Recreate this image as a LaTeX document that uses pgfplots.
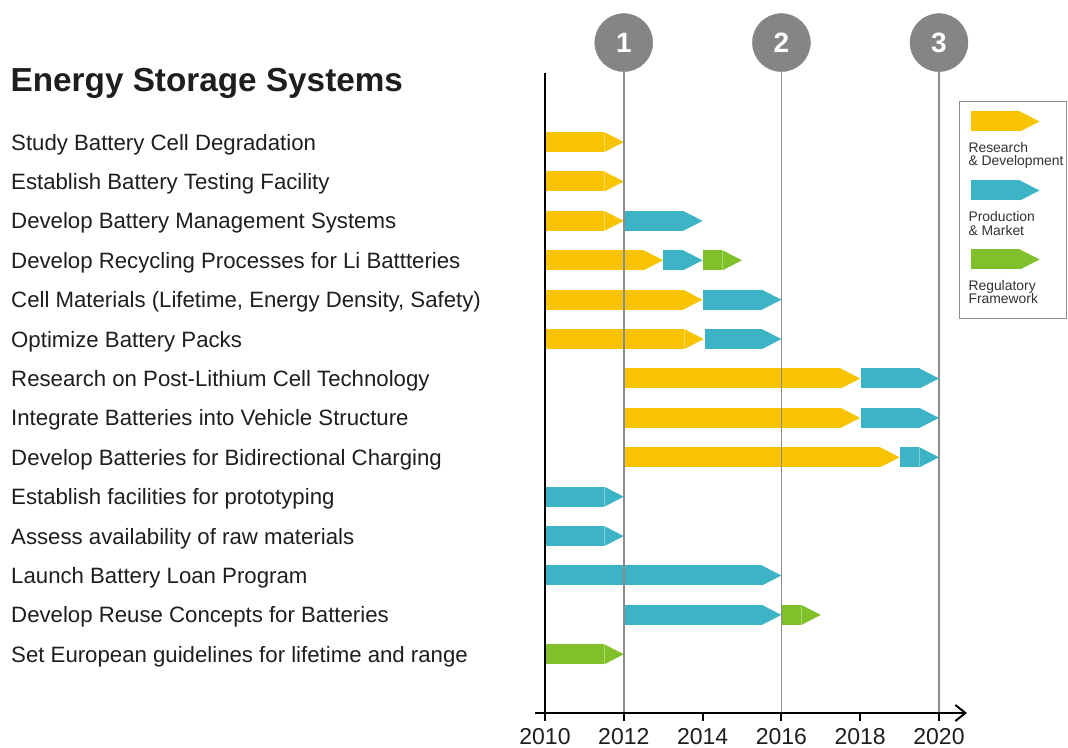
\documentclass[border=0pt]{standalone}
\usepackage{fontspec}
\setmainfont{Liberation Sans}
\usepackage{pgfplots}
\usepackage{pgfplotstable}
\pgfplotsset{compat=1.18}
\usetikzlibrary{arrows.meta}
\definecolor{rd}{HTML}{F8C300}
\definecolor{pm}{HTML}{3CB4C5}
\definecolor{rf}{HTML}{80C02A}
\definecolor{ms}{HTML}{858585}
\definecolor{vl}{HTML}{8C8C8C}
\definecolor{txt}{HTML}{1E1E1E}
\definecolor{legtxt}{HTML}{333333}
\tikzset{seg/.style={line width=20bp, -{Triangle[length=19.5bp 0 0, width=20bp 0 0, line width=0pt 0 0]}},
  legtext/.style={anchor=base west, inner sep=0pt, fill=none, draw=none,
    font=\fontsize{13.9bp}{16bp}\selectfont, text=legtxt}}

\pgfplotstableread{
x y u
2010 -1 2
2010 -2 2
2010 -3 2
2010 -4 3
2010 -5 4
2010 -6 4.03
2012 -7 6
2012 -8 6
2012 -9 7
}\rdtab
\pgfplotstableread{
x y u
2012 -3 2
2013 -4 1
2014 -5 2
2014.05 -6 1.95
2018.02 -7 1.98
2018.02 -8 1.98
2019.02 -9 0.98
2010 -10 2
2010 -11 2
2010 -12 6
2012 -13 4
}\pmtab
\pgfplotstableread{
x y u
2014.02 -4 0.98
2016 -13 1
2010 -14 2
}\rftab

\begin{document}
\begin{tikzpicture}
\useasboundingbox (0,0) rectangle (1068bp,748bp);
\begin{axis}[
  at={(545bp,35bp)}, anchor=south west,
  x=39.4bp, y=39.4bp,
  xmin=2010, xmax=2021, ymin=-15.49, ymax=0.75,
  clip=false,
  axis line style={draw=none},
  xtick={2010,2012,2014,2016,2018,2020},
  xtick pos=left,
  tick align=outside,
  major tick length=8bp,
  xtick style={black, line width=2bp},
  /pgf/number format/assume math mode=true,
  /pgf/number format/1000 sep={},
  xticklabel style={anchor=base, yshift=-23.5bp, inner sep=0pt,
    font=\fontsize{23bp}{27bp}\selectfont, text=txt},
  ytick={-1,-2,-3,-4,-5,-6,-7,-8,-9,-10,-11,-12,-13,-14},
  yticklabels={Study Battery Cell Degradation,
    Establish Battery Testing Facility,
    Develop Battery Management Systems,
    Develop Recycling Processes for Li Battteries,
    {Cell Materials (Lifetime, Energy Density, Safety)},
    Optimize Battery Packs,
    Research on Post-Lithium Cell Technology,
    Integrate Batteries into Vehicle Structure,
    Develop Batteries for Bidirectional Charging,
    Establish facilities for prototyping,
    Assess availability of raw materials,
    Launch Battery Loan Program,
    Develop Reuse Concepts for Batteries,
    Set European guidelines for lifetime and range},
  ytick pos=left,
  ytick style={draw=none},
  yticklabel style={anchor=base west, xshift=-526bp, yshift=-8bp, inner sep=0pt,
    font=\fontsize{22.2bp}{26bp}\selectfont, text=txt},
  title={Energy Storage Systems},
  title style={at={(-1.2333,0.96897)}, anchor=base west, inner sep=0pt, yshift=-4bp,
    font=\bfseries\fontsize{33.3bp}{38bp}\selectfont, text=txt},
  legend style={at={(0.95524,0.95647)}, anchor=north west, draw=black!45, fill=white,
    line width=1bp, inner sep=0pt, row sep=0pt, column sep=0pt,
    nodes={inner sep=0pt, text depth=0pt}},
]
\addplot[rd, seg, mark=none, quiver={u=\thisrow{u}, v=0},
  legend image code/.code={
    \path[draw=none, fill=none] (-11bp,20bp) rectangle (95bp,-49bp);
    \draw[rd, fill=none, seg] (0bp,0bp) -- (69bp,0bp);
    \node[legtext] at (-12bp,-31bp) {Research};
    \node[legtext] at (-12bp,-44.5bp) {\& Development};
  }] table[x=x, y=y] {\rdtab};
\addlegendentry{}
\addplot[pm, seg, mark=none, quiver={u=\thisrow{u}, v=0},
  legend image code/.code={
    \path[draw=none, fill=none] (-11bp,20bp) rectangle (95bp,-49bp);
    \draw[pm, fill=none, seg] (0bp,0bp) -- (69bp,0bp);
    \node[legtext] at (-12bp,-31bp) {Production};
    \node[legtext] at (-12bp,-45.5bp) {\& Market};
  }] table[x=x, y=y] {\pmtab};
\addlegendentry{}
\addplot[rf, seg, mark=none, quiver={u=\thisrow{u}, v=0},
  legend image code/.code={
    \path[draw=none, fill=none] (-11bp,20bp) rectangle (95bp,-59bp);
    \draw[rf, fill=none, seg] (0bp,0bp) -- (69bp,0bp);
    \node[legtext] at (-12bp,-31bp) {Regulatory};
    \node[legtext] at (-12bp,-44.5bp) {Framework};
  }] table[x=x, y=y] {\rftab};
\addlegendentry{}
% milestone lines
\addplot[forget plot, vl, line width=1.4bp, mark=none] coordinates {(2012,1.2) (2012,-15.49)};
\addplot[forget plot, vl, line width=1.4bp, mark=none] coordinates {(2016,1.2) (2016,-15.49)};
\addplot[forget plot, vl, line width=1.4bp, mark=none] coordinates {(2020,1.2) (2020,-15.49)};
% milestone circles
\addplot[forget plot, only marks, mark=*, mark size=29bp, ms,
  mark options={draw=ms, fill=ms},
  nodes near coords, point meta=explicit symbolic,
  every node near coord/.append style={anchor=center, text=white, inner sep=0pt,
    font=\bfseries\fontsize{28bp}{32bp}\selectfont}]
  coordinates {(2012,1.5254) [1] (2016,1.5254) [2] (2020,1.5254) [3]};
% axis lines
\draw[black, line width=2.5bp] (axis cs:2010,0.75) -- (axis cs:2010,-15.69);
\draw[black, line width=2bp, -{Straight Barb[length=10bp, width=16bp]}]
  (axis cs:2009.75,-15.49) -- (axis cs:2020.71,-15.49);
\end{axis}
\end{tikzpicture}
\end{document}
